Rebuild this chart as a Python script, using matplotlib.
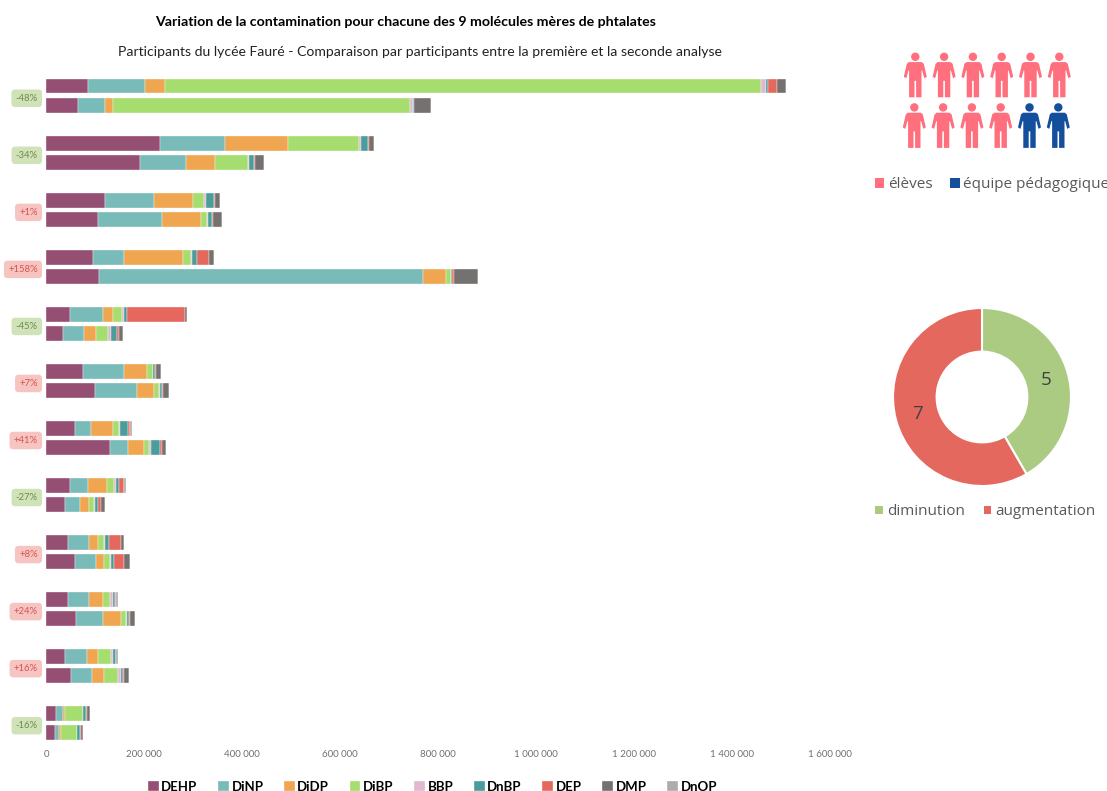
import numpy as np
import matplotlib
matplotlib.use("Agg")
import matplotlib.pyplot as plt
from matplotlib.patches import Circle, Polygon, Rectangle

W, H = 1107, 791

molecules = ["DEHP", "DiNP", "DiDP", "DiBP", "BBP", "DnBP", "DEP", "DMP", "DnOP"]
colors = ["#954F72", "#78BBB9", "#F0A650", "#A5DE6E", "#E0B8CF", "#4C9C9C", "#E5685F", "#767171", "#AFABAB"]

# two bars per participant: first analysis, second analysis
dehp = [84500, 65300, 232000, 191900, 119800, 105500, 95900, 108200, 47600, 34700, 74800, 100000,
        59200, 130000, 49000, 38800, 43500, 58500, 43500, 60500, 38800, 51000, 19000, 17000]
dinp = [117000, 55100, 133300, 93900, 100600, 131200, 63300, 661300, 67400, 42900, 84400, 85000,
        32000, 37400, 35400, 29300, 44200, 42200, 43500, 55100, 44200, 41500, 15600, 8800]
didp = [40000, 16300, 128000, 59200, 79600, 79600, 119200, 46900, 21100, 23800, 47000, 34000,
        45600, 32000, 38800, 18400, 18400, 16300, 27900, 36100, 23100, 25200, 4100, 4100]
dibp = [1218000, 606000, 144300, 66100, 22500, 12200, 17600, 8500, 17700, 25200, 10900, 10900,
        10900, 10900, 15700, 10900, 12200, 12200, 15000, 10900, 26500, 27900, 35400, 32000]
bbp = [9000, 4900, 4100, 2000, 4100, 1400, 2000, 2000, 5400, 4800, 1400, 2000,
       2700, 2700, 3400, 2700, 2000, 2000, 5400, 2000, 2700, 6100, 1400, 700]
dnbp = [5300, 2700, 15500, 11400, 16300, 8800, 9000, 2000, 5400, 13600, 4100, 4100,
        17000, 19700, 6800, 4800, 8200, 7500, 5400, 4800, 6100, 5400, 6100, 6100]
dep = [18400, 0, 2000, 1400, 2000, 1400, 25700, 4000, 119000, 4100, 1400, 1400,
       4100, 4100, 8800, 6100, 24500, 19700, 1400, 2000, 700, 2000, 2000, 1400]
dmp = [17100, 35300, 10200, 17800, 9600, 19000, 9000, 48000, 4100, 7500, 10900, 12900,
       0, 8200, 0, 8200, 4800, 11600, 0, 9500, 0, 8800, 4800, 4100]
dnop = [0, 0, 0, 0, 0, 0, 0, 0, 0, 0, 0, 0,
        3400, 0, 4800, 0, 0, 0, 3400, 0, 4100, 0, 0, 0]
series = [dehp, dinp, didp, dibp, bbp, dnbp, dep, dmp, dnop]

variations = ["-48%", "-34%", "+1%", "+158%", "-45%", "+7%", "+41%", "-27%", "+8%", "+24%", "+16%", "-16%"]
ticks = [0, 200000, 400000, 600000, 800000, 1000000, 1200000, 1400000, 1600000]
tick_labels = ["0", "200 000", "400 000", "600 000", "800 000", "1 000 000", "1 200 000", "1 400 000", "1 600 000"]

n_eleves = 10
n_equipe = 2
donut_values = [5, 7]
donut_colors = ["#ABCB82", "#E5685F"]

GREY = "#595959"

fig = plt.figure(figsize=(W / 100, H / 100), dpi=100, facecolor="white")


def px_axes(x0, y0, x1, y1, **kw):
    return fig.add_axes([x0 / W, 1 - y1 / H, (x1 - x0) / W, (y1 - y0) / H], **kw)


# stacked bars
ax = px_axes(46.3, 76, 830.3, 742)
pos = []
for g in range(12):
    pos += [3 * g, 3 * g + 1]
pos = np.array(pos)

left = np.zeros(24)
handles = []
for name, vals, col in zip(molecules, series, colors):
    vals = np.array(vals)
    b = ax.barh(pos, vals, left=left, height=0.76, color=col, edgecolor="white", linewidth=0.25, label=name)
    handles.append(b)
    left += vals

ax.set_xlim(0, 1600000)
ax.set_ylim(34.49, -0.54)
ax.set_yticks([])
ax.set_xticks(ticks)
ax.set_xticklabels(tick_labels, fontsize=7, color="#707070", family="Lato")
ax.tick_params(axis="x", length=0, pad=6)
for s in ax.spines.values():
    s.set_visible(False)

# variation badges
for g, lab in enumerate(variations):
    if lab.startswith("-"):
        fc, tc = "#CFE2B8", "#6F8A4A"
    else:
        fc, tc = "#F6C5C1", "#D9534F"
    ax.annotate(lab, xy=(0, 3 * g + 0.5), xytext=(-8.5, -2.5), textcoords="offset pixels",
                ha="right", va="center", fontsize=6.8, color=tc, family="Lato",
                annotation_clip=False,
                bbox=dict(boxstyle="round,pad=0.45,rounding_size=0.4", fc=fc, ec="none"))

fig.text(405.5 / W, 1 - 22 / H, "Variation de la contamination pour chacune des 9 molécules mères de phtalates",
         ha="center", va="center", fontsize=10.15, fontweight="bold", family="Lato", color="black")
fig.text(419.5 / W, 1 - 52 / H, "Participants du lycée Fauré - Comparaison par participants entre la première et la seconde analyse",
         ha="center", va="center", fontsize=10.1, family="Lato", color="#222222")

# bottom legend
leg = fig.legend(handles=handles, labels=molecules, loc="center", bbox_to_anchor=(432.5 / W, 1 - 787 / H), ncol=9,
                 frameon=False, handlelength=0.8, handleheight=0.8, handletextpad=0.2, columnspacing=1.57,
                 prop=dict(family="Lato", weight="bold", size=9.5))
for t in leg.get_texts():
    t.set_color("black")

# overlay in pixel coordinates for the pictogram and its legend
ov = px_axes(0, 0, W, H)
ov.set_xlim(0, W)
ov.set_ylim(H, 0)
ov.axis("off")
ov.patch.set_alpha(0)

half = [(0, 9.3), (6.5, 9.3), (8.5, 11), (11.5, 24), (9, 25.5), (6.8, 17.5), (6.2, 18),
        (6.2, 44.5), (0.8, 44.5), (0.8, 28), (0, 28)]


def person(cx, top, col):
    pts = [(cx + x, top + y) for x, y in half] + [(cx - x, top + y) for x, y in half[::-1]]
    ov.add_patch(Polygon(pts, closed=True, fc=col, ec="none"))
    ov.add_patch(Circle((cx, top + 4), 4.2, fc=col, ec="none"))


person_cols = ["#FF6F7D"] * n_eleves + ["#144F9E"] * n_equipe
for i, col in enumerate(person_cols):
    r, c = divmod(i, 6)
    person(915.3 - r + 28.8 * c, 52.8 + 50.6 * r, col)


def small_legend(x_sq, y, size, col, label, x_txt):
    ov.add_patch(Rectangle((x_sq, y - size / 2), size, size, fc=col, ec="none"))
    ov.text(x_txt, y + 1.5, label, ha="left", va="center", fontsize=11.0, color=GREY, family="Open Sans", clip_on=False)


small_legend(874.5, 183, 9.5, "#FF6F7D", "élèves", 888)
small_legend(950, 183, 9.5, "#144F9E", "équipe pédagogique", 963)
small_legend(875, 510, 7.5, "#ABCB82", "diminution", 887)
small_legend(983.5, 510, 7.5, "#E5685F", "augmentation", 995)

# donut
ax2 = px_axes(893, 308, 1071, 486)
wedges, texts = ax2.pie(donut_values, colors=donut_colors, labels=[str(v) for v in donut_values],
                        startangle=90, counterclock=False, radius=1.0, labeldistance=0.75,
                        wedgeprops=dict(width=0.49, edgecolor="white", linewidth=1.5))
for t in texts:
    t.set_ha("center")
    t.set_va("center")
    t.set_fontsize(13.5)
    t.set_color("#404040")
    t.set_family("Open Sans")
ax2.set_xlim(-1, 1)
ax2.set_ylim(-1, 1)

fig.savefig("out.png", dpi=100)
